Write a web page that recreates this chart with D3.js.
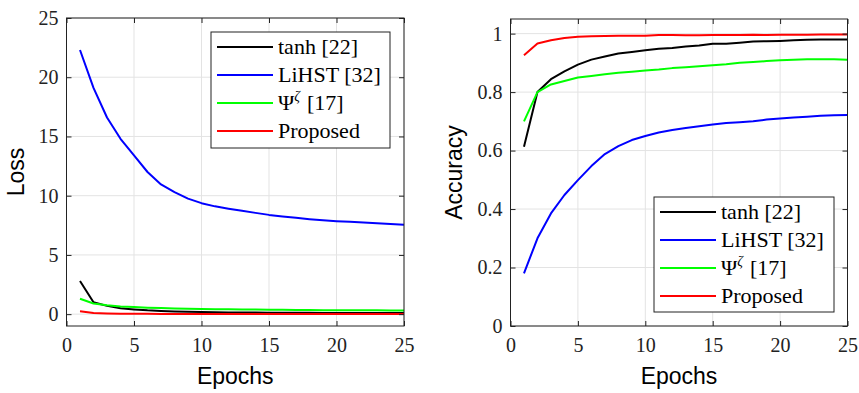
<!DOCTYPE html>
<html>
<head>
<meta charset="utf-8">
<script src="https://cdn.jsdelivr.net/npm/d3@7"></script>
<style>
  body { margin: 0; background: #fff; }
</style>
</head>
<body>
<div id="chart"></div>
<script>
var svgWidth = 859;
var svgHeight = 393;
var serif = "'Liberation Serif', serif";
var sans = "'Liberation Sans', Arial, sans-serif";

// data
var epochs = d3.range(1, 26);
var seriesNames = ["tanh [22]", "LiHST [32]", "Ψζ [17]", "Proposed"];
var seriesColors = ["#000000", "#0000ff", "#00ff00", "#ff0000"];

var lossTanh = [2.8, 1.0, 0.7, 0.5, 0.4, 0.32, 0.27, 0.23, 0.2, 0.18, 0.16, 0.15, 0.14, 0.13, 0.12, 0.12, 0.11, 0.11, 0.1, 0.1, 0.1, 0.09, 0.09, 0.09, 0.09];
var lossLihst = [22.3, 19.1, 16.6, 14.8, 13.4, 12.0, 10.95, 10.3, 9.75, 9.37, 9.1, 8.9, 8.72, 8.55, 8.38, 8.25, 8.13, 8.02, 7.93, 7.85, 7.79, 7.73, 7.68, 7.62, 7.55];
var lossPsi = [1.3, 0.9, 0.75, 0.65, 0.6, 0.55, 0.51, 0.48, 0.46, 0.44, 0.42, 0.41, 0.4, 0.39, 0.38, 0.37, 0.36, 0.35, 0.34, 0.33, 0.33, 0.32, 0.32, 0.31, 0.31];
var lossProposed = [0.25, 0.1, 0.06, 0.04, 0.03, 0.03, 0.02, 0.02, 0.02, 0.02, 0.02, 0.02, 0.02, 0.02, 0.02, 0.02, 0.02, 0.02, 0.02, 0.02, 0.02, 0.02, 0.02, 0.02, 0.02];

var accTanh = [0.613, 0.80, 0.844, 0.871, 0.894, 0.911, 0.922, 0.932, 0.937, 0.943, 0.948, 0.951, 0.956, 0.959, 0.965, 0.965, 0.969, 0.973, 0.974, 0.975, 0.977, 0.979, 0.98, 0.98, 0.98];
var accLihst = [0.18, 0.30, 0.385, 0.448, 0.499, 0.547, 0.588, 0.615, 0.636, 0.65, 0.662, 0.67, 0.677, 0.683, 0.689, 0.694, 0.697, 0.70, 0.706, 0.71, 0.713, 0.716, 0.719, 0.721, 0.722];
var accPsi = [0.70, 0.80, 0.826, 0.838, 0.85, 0.855, 0.861, 0.866, 0.87, 0.874, 0.877, 0.882, 0.885, 0.888, 0.892, 0.895, 0.90, 0.903, 0.906, 0.909, 0.911, 0.912, 0.912, 0.912, 0.911];
var accProposed = [0.926, 0.966, 0.977, 0.985, 0.989, 0.991, 0.992, 0.993, 0.993, 0.993, 0.995, 0.995, 0.994, 0.994, 0.995, 0.995, 0.995, 0.996, 0.995, 0.996, 0.996, 0.996, 0.997, 0.997, 0.997];

var xTicks = [0, 5, 10, 15, 20, 25];
var lossTicks = [0, 5, 10, 15, 20, 25];
var accTicks = [0, 0.2, 0.4, 0.6, 0.8, 1];

var svg = d3.select("#chart")
  .append("svg")
  .attr("width", svgWidth)
  .attr("height", svgHeight);

function drawPanel(opts) {
  var g = svg.append("g");
  var x = d3.scaleLinear().domain([0, 25]).range([opts.left, opts.right]);
  var y = d3.scaleLinear().domain(opts.yDomain).range([opts.bottom, opts.top]);

  // grid
  g.selectAll(".gx").data(xTicks).enter().append("line")
    .attr("x1", d => x(d)).attr("x2", d => x(d))
    .attr("y1", opts.top).attr("y2", opts.bottom)
    .attr("stroke", "#e3e3e3").attr("stroke-width", 1);
  g.selectAll(".gy").data(opts.yTicks).enter().append("line")
    .attr("x1", opts.left).attr("x2", opts.right)
    .attr("y1", d => y(d)).attr("y2", d => y(d))
    .attr("stroke", "#e3e3e3").attr("stroke-width", 1);

  // lines
  var line = d3.line().x((d, i) => x(epochs[i])).y(d => y(d));
  opts.series.forEach(function(s, i) {
    g.append("path")
      .datum(s)
      .attr("fill", "none")
      .attr("stroke", seriesColors[i])
      .attr("stroke-width", 2)
      .attr("stroke-linejoin", "round")
      .attr("d", line);
  });

  // axes (inward ticks)
  var bottomAxis = d3.axisBottom(x).tickValues(xTicks).tickSize(-5).tickPadding(12).tickFormat(d3.format("d"));
  var topAxis = d3.axisTop(x).tickValues(xTicks).tickSize(-5).tickFormat("");
  var leftAxis = d3.axisLeft(y).tickValues(opts.yTicks).tickSize(-5).tickPadding(8).tickFormat(opts.yFormat);
  var rightAxis = d3.axisRight(y).tickValues(opts.yTicks).tickSize(-5).tickFormat("");

  [[bottomAxis, `translate(0,${opts.bottom})`], [topAxis, `translate(0,${opts.top})`],
   [leftAxis, `translate(${opts.left},0)`], [rightAxis, `translate(${opts.right},0)`]].forEach(function(a) {
    var ax = g.append("g").attr("transform", a[1]).call(a[0]);
    ax.attr("font-family", serif).attr("font-size", 20);
    ax.select(".domain").remove();
    ax.selectAll(".tick line").attr("stroke", "#222");
    ax.selectAll("text").attr("fill", "#222");
  });

  g.append("rect")
    .attr("x", opts.left).attr("y", opts.top)
    .attr("width", opts.right - opts.left).attr("height", opts.bottom - opts.top)
    .attr("fill", "none").attr("stroke", "#222").attr("stroke-width", 1);

  // axis labels
  g.append("text")
    .attr("x", (opts.left + opts.right) / 2).attr("y", 384)
    .attr("text-anchor", "middle")
    .style("font-family", sans)
    .style("font-size", "23px")
    .text("Epochs");
  g.append("text")
    .attr("transform", `translate(${opts.yLabelX},${(opts.top + opts.bottom) / 2}) rotate(-90)`)
    .attr("text-anchor", "middle")
    .style("font-family", sans)
    .style("font-size", "23px")
    .text(opts.yLabel);

  // legend
  var L = opts.legend;
  var lg = g.append("g");
  lg.append("rect")
    .attr("x", L.x).attr("y", L.y).attr("width", L.w).attr("height", L.h)
    .attr("fill", "#fff").attr("stroke", "#222").attr("stroke-width", 1);
  seriesNames.forEach(function(name, i) {
    var cy = L.y + 15 + i * 28;
    lg.append("line")
      .attr("x1", L.x + 6).attr("x2", L.x + 62)
      .attr("y1", cy).attr("y2", cy)
      .attr("stroke", seriesColors[i]).attr("stroke-width", 2);
    var t = lg.append("text")
      .attr("x", L.x + 67).attr("y", cy + 7)
      .attr("font-family", serif)
      .attr("font-size", 22);
    if (i === 2) {
      t.append("tspan").text("Ψ");
      t.append("tspan").attr("font-size", 14).attr("dy", -9).attr("font-style", "italic").text("ζ");
      t.append("tspan").attr("dy", 9).attr("dx", 7).text("[17]");
    } else {
      t.text(name);
    }
  });
}

drawPanel({
  left: 66.5, right: 404, top: 18, bottom: 326,
  yDomain: [-1, 25], yTicks: lossTicks, yFormat: d3.format("d"),
  series: [lossTanh, lossLihst, lossPsi, lossProposed],
  yLabel: "Loss", yLabelX: 24,
  legend: { x: 211, y: 32, w: 179, h: 116 }
});

drawPanel({
  left: 510.5, right: 847.5, top: 19, bottom: 326,
  yDomain: [0, 1.05], yTicks: accTicks, yFormat: d => d === 0 || d === 1 ? d3.format("d")(d) : d3.format(".1f")(d),
  series: [accTanh, accLihst, accPsi, accProposed],
  yLabel: "Accuracy", yLabelX: 462,
  legend: { x: 654, y: 197, w: 180, h: 115 }
});
</script>
</body>
</html>
